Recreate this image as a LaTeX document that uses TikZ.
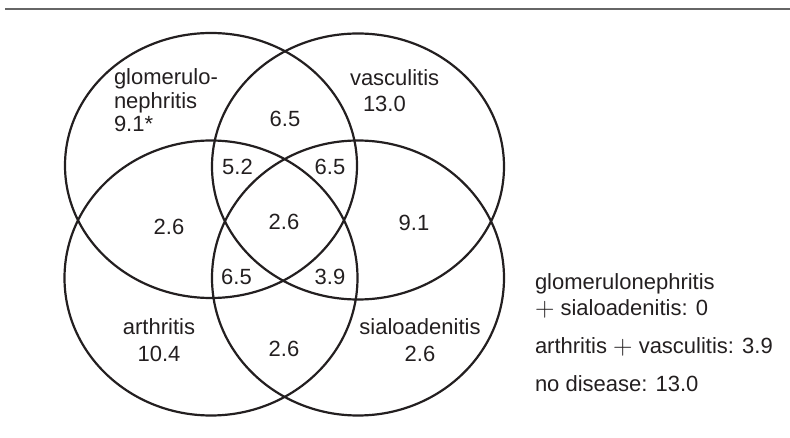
\documentclass[tikz,border=0pt]{standalone}
\usepackage{fontspec}
\usepackage{graphicx}
\setmainfont{Liberation Sans}
\definecolor{ink}{HTML}{231F20}
\definecolor{rule}{HTML}{666666}
\newcommand{\bigplus}{\raisebox{-0.5pt}{\scalebox{1.3}{$+$}}}
\begin{document}
\begin{tikzpicture}[x=1pt,y=-1pt,
  lbl/.style={inner sep=0pt,outer sep=0pt,text=ink,font=\fontsize{22}{26}\selectfont},
  ring/.style={draw=ink,line width=2.2pt}]
\useasboundingbox (0,0) rectangle (790,438);
\draw[rule,line width=1.6pt] (5,9) -- (790,9);
% ellipses
\draw[ring] (211,165.5) ellipse [x radius=146, y radius=132.5];
\draw[ring] (358,166.5) ellipse [x radius=146, y radius=133];
\draw[ring] (211,278) ellipse [x radius=146.5, y radius=137.5];
\draw[ring] (358,278) ellipse [x radius=146, y radius=137.5];
% labels
\node[lbl,anchor=base west] (g1) at (114,85) {glomerulo-};
\node[lbl,anchor=base west] (g2) at (114,108.5) {nephritis};
\node[lbl,anchor=base west] (g3) at (114,132) {9.1*};
\node[lbl,anchor=base west] (v1) at (350,86) {vasculitis};
\node[lbl,anchor=base west] (v2) at (363,111.5) {13.0};
\node[lbl,anchor=base] (n1) at (285,126.5) {6.5};
\node[lbl,anchor=base] (n2) at (237.5,175) {5.2};
\node[lbl,anchor=base] (n3) at (330,175) {6.5};
\node[lbl,anchor=base] (n4) at (169,234.3) {2.6};
\node[lbl,anchor=base] (n5) at (284,229.3) {2.6};
\node[lbl,anchor=base] (n6) at (414,231) {9.1};
\node[lbl,anchor=base] (n7) at (236.5,284.3) {6.5};
\node[lbl,anchor=base] (n8) at (330,284.3) {3.9};
\node[lbl,anchor=base] (n9) at (284,356) {2.6};
\node[lbl,anchor=base] (a1) at (159,335) {arthritis};
\node[lbl,anchor=base] (a2) at (159,361.7) {10.4};
\node[lbl,anchor=base] (s1) at (420,335) {sialoadenitis};
\node[lbl,anchor=base] (s2) at (420,361) {2.6};
% side notes
\node[lbl,anchor=base west] (r1) at (535,290) {glomerulonephritis};
\node[lbl,anchor=base west] (r2) at (535,316) {\bigplus{} sialoadenitis: 0};
\node[lbl,anchor=base west] (r3) at (535,354) {arthritis \bigplus{} vasculitis: 3.9};
\node[lbl,anchor=base west] (r4) at (535,391) {no disease: 13.0};
\end{tikzpicture}
\end{document}
